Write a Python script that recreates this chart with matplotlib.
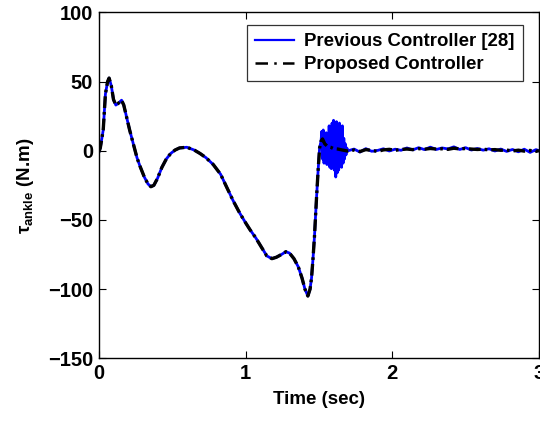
import numpy as np
import matplotlib
matplotlib.use('Agg')
import matplotlib.pyplot as plt

plt.rcParams['font.family'] = ['Liberation Sans', 'DejaVu Sans']
plt.rcParams['font.weight'] = 'bold'
plt.rcParams['mathtext.fontset'] = 'custom'
plt.rcParams['mathtext.rm'] = 'Liberation Sans:bold'
plt.rcParams['mathtext.bf'] = 'Liberation Sans:bold'
plt.rcParams['mathtext.it'] = 'Liberation Sans:bold'

# smooth part shared by both controllers
t_main = [0, 0.01, 0.03, 0.045, 0.06, 0.07, 0.085, 0.1, 0.116, 0.13, 0.155,
          0.17, 0.19, 0.21, 0.235, 0.26, 0.28, 0.31, 0.335, 0.355, 0.375,
          0.40, 0.43, 0.46, 0.49, 0.52, 0.55, 0.60, 0.65, 0.69, 0.73, 0.78,
          0.83, 0.87, 0.915, 0.96, 1.0, 1.03, 1.07, 1.11, 1.145, 1.18, 1.21,
          1.245, 1.275, 1.30, 1.33, 1.36, 1.385, 1.405, 1.425, 1.44, 1.45,
          1.46, 1.47, 1.484, 1.495, 1.505, 1.515]
y_main = [-1, 2, 15, 41, 50, 52.5, 47, 37, 33, 34, 36.5,
          33, 24, 15, 5, -5, -11, -19, -24, -26, -25,
          -20, -12, -6, -2, 0.5, 2, 2.5, 0.5, -2, -5, -10,
          -17, -26, -36, -45, -52, -57, -63, -70, -76, -78, -77,
          -75, -73, -74, -78, -84, -92, -100, -105, -100, -92,
          -78, -62, -34, -14, 2, 7]

# proposed controller after the step
t_black_settle = [1.525, 1.54, 1.56, 1.58, 1.60, 1.63, 1.66, 1.70]
y_black_settle = [8.5, 5, 3, 2.5, 1.5, 1.2, 0.5, -0.3]

# previous controller chatter after the step
t_osc = [1.52, 1.525, 1.53, 1.535, 1.54, 1.545, 1.55, 1.555, 1.56, 1.565,
         1.57, 1.575, 1.58, 1.585, 1.59, 1.595, 1.60, 1.605, 1.61, 1.615,
         1.62, 1.625, 1.63, 1.635, 1.64, 1.645, 1.65, 1.655, 1.66, 1.665,
         1.67, 1.675, 1.68, 1.685, 1.69, 1.70]
y_osc = [14, -6, 15, -9, 11, -4, 13, -10, 8, -8,
         18, -12, 6, -13, 20, -10, 22, -14, 12, -19,
         21, -16, 18, -14, 20, -11, 16, -12, 18, -9,
         9, -6, 5, -3, 2, 0]

# small ripple until the end
t_tail = [1.74, 1.78, 1.82, 1.86, 1.90, 1.94, 1.98, 2.02, 2.06, 2.10,
          2.14, 2.18, 2.22, 2.26, 2.30, 2.34, 2.38, 2.42, 2.46, 2.50,
          2.54, 2.58, 2.62, 2.66, 2.70, 2.74, 2.78, 2.82, 2.86, 2.90,
          2.94, 2.98, 3.0]
y_tail_black = [0.5, -0.6, 0.8, 0.2, -0.5, 0.6, 1.0, 0.3, 0.9, 1.2,
                0.8, 1.5, 1.1, 1.6, 1.2, 1.4, 1.0, 1.8, 1.3, 1.6,
                1.2, 0.9, 1.1, 0.6, 0.8, 0.3, 0.5, -0.2, 0.4, -0.3,
                0.2, -0.5, 0.1]
y_tail_blue = [1.2, -1.0, 1.5, -0.4, 0.2, 1.4, -0.2, 1.1, 0.3, 2.0,
               0.6, 2.2, 0.8, 2.6, 0.9, 2.0, 1.3, 2.8, 0.9, 2.2,
               0.5, 1.6, 0.4, 1.4, -0.2, 1.2, -0.5, 0.9, -0.8, 1.1,
               -1.2, 0.8, 0.0]

t_blue = t_main + t_osc + t_tail
y_blue = y_main + y_osc + y_tail_blue
t_black = t_main + t_black_settle + t_tail
y_black = y_main + y_black_settle + y_tail_black

fig = plt.figure(figsize=(5.4, 4.26), dpi=100)
ax = fig.add_axes([0.183, 0.159, 0.815, 0.812])

ax.plot(t_blue, y_blue, color='#0000ff', lw=2.0, label='Previous Controller [28]')
ax.plot(t_black, y_black, color='black', lw=2.4, ls='-.',
        dashes=(3.5, 1.2, 0.8, 1.2), label='Proposed Controller')

ax.set_xlim(0, 3)
ax.set_ylim(-150, 100)
ax.set_xticks([0, 1, 2, 3])
ax.set_yticks([-150, -100, -50, 0, 50, 100])
ax.tick_params(direction='in', length=5, width=0.8, top=True, right=True,
               labelsize=14.5, pad=4)
for lbl in ax.get_xticklabels() + ax.get_yticklabels():
    lbl.set_fontweight('bold')
for s in ax.spines.values():
    s.set_linewidth(1.0)

ax.set_xlabel('Time (sec)', fontsize=13.5, fontweight='bold', labelpad=6)
ax.set_ylabel(r'$\tau_{\mathregular{ankle}}$ (N.m)', fontsize=13.5,
              fontweight='bold', labelpad=9)

leg = ax.legend(loc='upper right', bbox_to_anchor=(523 / 540, 1 - 25 / 426),
                bbox_transform=fig.transFigure, borderaxespad=0,
                fontsize=13.4, frameon=True, fancybox=False,
                edgecolor='black', handlelength=2.1, handletextpad=0.55,
                borderpad=0.45, labelspacing=0.3)
leg.get_frame().set_linewidth(0.9)
for txt in leg.get_texts():
    txt.set_fontweight('bold')
leg.get_lines()[0].set_linewidth(1.6)
leg.get_lines()[1].set_linewidth(1.8)
leg.get_lines()[1].set_dashes((5, 2.5, 1, 2.5))

fig.savefig('out.png', dpi=100)
